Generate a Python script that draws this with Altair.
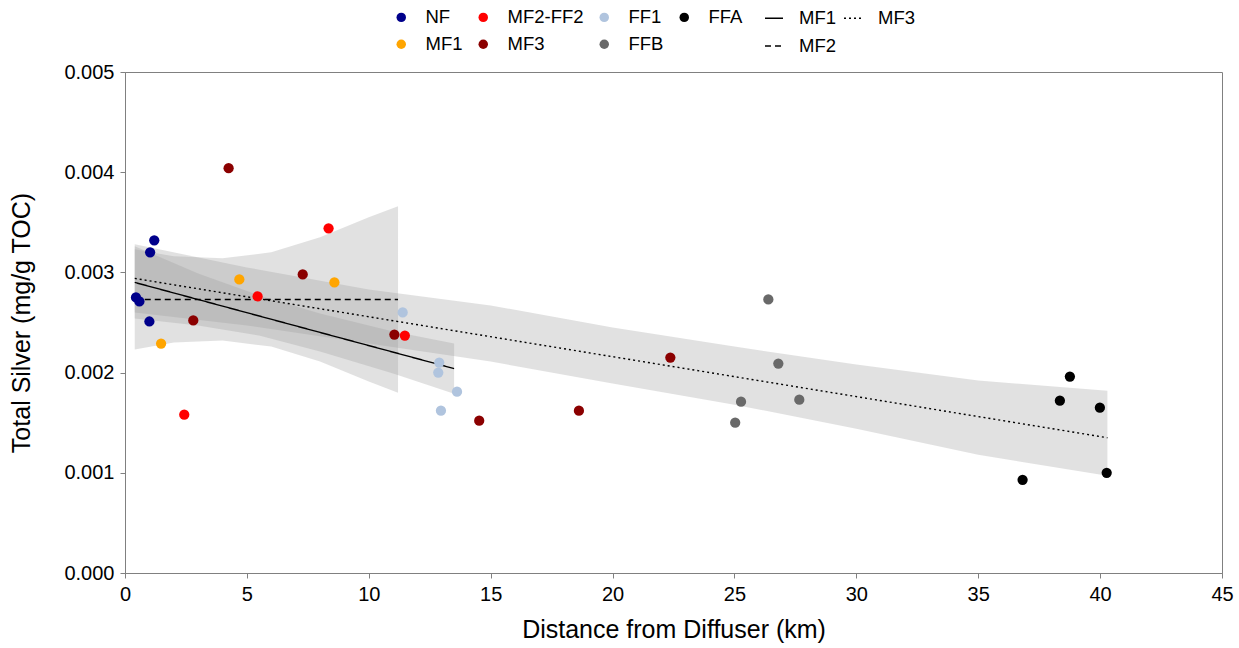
import altair as alt
import pandas as pd

# ---- Station samples (distance km, total silver mg/g TOC) ----
nf_x = [0.45, 0.59, 1.03, 1.20, 1.00]
nf_y = [0.00275, 0.00271, 0.00320, 0.00332, 0.00251]
mf1_x = [1.48, 4.69, 8.59]
mf1_y = [0.00229, 0.00293, 0.00290]
mf2ff2_x = [2.43, 5.44, 8.35, 11.48]
mf2ff2_y = [0.00158, 0.00276, 0.00344, 0.00237]
mf3_x = [2.80, 4.25, 7.29, 11.05, 14.53, 18.62, 22.37]
mf3_y = [0.00252, 0.00404, 0.00298, 0.00238, 0.00152, 0.00162, 0.00215]
ff1_x = [11.39, 12.89, 12.85, 12.96, 13.62]
ff1_y = [0.00260, 0.00210, 0.00200, 0.00162, 0.00181]
ffb_x = [25.03, 25.27, 26.39, 26.80, 27.66]
ffb_y = [0.00150, 0.00171, 0.00273, 0.00209, 0.00173]
ffa_x = [36.82, 38.35, 38.76, 39.99, 40.27]
ffa_y = [0.00093, 0.00172, 0.00196, 0.00165, 0.00100]

station_order = ["NF", "MF2-FF2", "FF1", "FFA", "MF1", "MF3", "FFB"]
station_colors = ["#00008B", "#FF0000", "#B0C4DE", "#000000", "#FFA500", "#8B0000", "#696969"]

# ---- Fitted lines ----
fit_mf1_x = [0.4, 13.5]
fit_mf1_y = [0.00290, 0.00204]
fit_mf2_x = [0.4, 11.2]
fit_mf2_y = [0.00273, 0.00273]
fit_mf3_x = [0.4, 40.3]
fit_mf3_y = [0.00294, 0.00135]

# ---- Confidence bands ----
band_mf1_x = [0.4, 3, 5.5, 8, 11, 13.5]
band_mf1_hi = [0.00326, 0.00299, 0.00277, 0.00259, 0.00241, 0.00229]
band_mf1_lo = [0.00254, 0.00247, 0.00237, 0.00221, 0.00199, 0.00179]
band_mf2_x = [0.4, 2, 4, 6, 8, 10, 11.2]
band_mf2_hi = [0.00323, 0.00316, 0.00314, 0.00320, 0.00335, 0.00355, 0.00366]
band_mf2_lo = [0.00223, 0.00230, 0.00232, 0.00226, 0.00211, 0.00191, 0.00180]
band_mf3_x = [0.4, 5, 10, 15, 20, 25, 30, 35, 40.3]
band_mf3_hi = [0.00328, 0.00305, 0.00283, 0.00267, 0.00245, 0.00226, 0.00208, 0.00192, 0.00182]
band_mf3_lo = [0.00260, 0.00247, 0.00229, 0.00211, 0.00189, 0.00168, 0.00144, 0.00118, 0.00097]

fit_order = ["MF1", "MF3", "MF2"]
fit_dash = [[1, 0], [2, 3], [6, 4]]

# ---- Build tables ----
rows = []
for name, xs, ys in [("NF", nf_x, nf_y), ("MF1", mf1_x, mf1_y), ("MF2-FF2", mf2ff2_x, mf2ff2_y),
                     ("MF3", mf3_x, mf3_y), ("FF1", ff1_x, ff1_y), ("FFB", ffb_x, ffb_y),
                     ("FFA", ffa_x, ffa_y)]:
    for x, y in zip(xs, ys):
        rows.append({"Station": name, "dist": x, "ag": y})
pts = pd.DataFrame(rows)

lrows = []
for name, xs, ys in [("MF1", fit_mf1_x, fit_mf1_y), ("MF2", fit_mf2_x, fit_mf2_y),
                     ("MF3", fit_mf3_x, fit_mf3_y)]:
    for x, y in zip(xs, ys):
        lrows.append({"Fit": name, "dist": x, "ag": y})
lines = pd.DataFrame(lrows)

FONT = "Liberation Sans"

xscale = alt.Scale(domain=[0, 45], nice=False)
yscale = alt.Scale(domain=[0, 0.005], nice=False)

xaxis = alt.Axis(title="Distance from Diffuser (km)", values=list(range(0, 46, 5)),
                 grid=False, labelFlush=False)
yaxis = alt.Axis(title="Total Silver (mg/g TOC)", values=[0, 0.001, 0.002, 0.003, 0.004, 0.005],
                 format=".3f", grid=False, labelFlush=False)


def band(xs, lo, hi):
    df = pd.DataFrame({"dist": xs, "lo": lo, "hi": hi})
    return alt.Chart(df).mark_area(color="#9a9a9a", opacity=0.3).encode(
        x=alt.X("dist:Q", scale=xscale, axis=xaxis),
        y=alt.Y("lo:Q", scale=yscale, axis=yaxis, stack=None),
        y2="hi:Q",
    )


band_layers = [
    band(band_mf3_x, band_mf3_lo, band_mf3_hi),
    band(band_mf2_x, band_mf2_lo, band_mf2_hi),
    band(band_mf1_x, band_mf1_lo, band_mf1_hi),
]

line_layer = alt.Chart(lines).mark_line(color="black", strokeWidth=1.4).encode(
    x=alt.X("dist:Q", scale=xscale, axis=xaxis),
    y=alt.Y("ag:Q", scale=yscale, axis=yaxis),
    strokeDash=alt.StrokeDash(
        "Fit:N",
        scale=alt.Scale(domain=fit_order, range=fit_dash),
        legend=alt.Legend(
            title=None, orient="none", legendX=639, legendY=-64, columns=2,
            direction="horizontal", symbolType="stroke", symbolSize=324,
            symbolStrokeColor="black", symbolStrokeWidth=1.4,
            labelFontSize=18.5, labelFont=FONT, labelOffset=15,
            columnPadding=5, rowPadding=8, padding=0, labelColor="black",
        ),
    ),
)

point_layer = alt.Chart(pts).mark_circle(size=105, opacity=1).encode(
    x=alt.X("dist:Q", scale=xscale, axis=xaxis),
    y=alt.Y("ag:Q", scale=yscale, axis=yaxis),
    color=alt.Color(
        "Station:N",
        scale=alt.Scale(domain=station_order, range=station_colors),
        legend=alt.Legend(
            title=None, orient="none", legendX=267, legendY=-64, columns=4,
            direction="horizontal", symbolType="circle", symbolSize=90,
            labelFontSize=18.5, labelFont=FONT, labelOffset=15,
            columnPadding=11, rowPadding=8, padding=0, labelColor="black",
        ),
    ),
)

chart = alt.layer(*band_layers, line_layer, point_layer).properties(
    width=1097,
    height=501,
    autosize=alt.AutoSizeParams(type="none"),
    padding={"left": 125, "top": 72, "right": 17, "bottom": 75},
    background="white",
).configure_view(
    stroke="#808080", strokeWidth=1
).configure_axis(
    labelFont=FONT, titleFont=FONT, labelFontSize=20, titleFontSize=25,
    titleFontWeight="normal", labelColor="black", titleColor="black",
    domainColor="#808080", tickColor="#808080", tickSize=5, labelPadding=6,
).configure_axisX(
    titlePadding=13
).configure_axisY(
    titlePadding=29
)

chart.save("out.html", embed_options={"renderer": "svg", "actions": False})
